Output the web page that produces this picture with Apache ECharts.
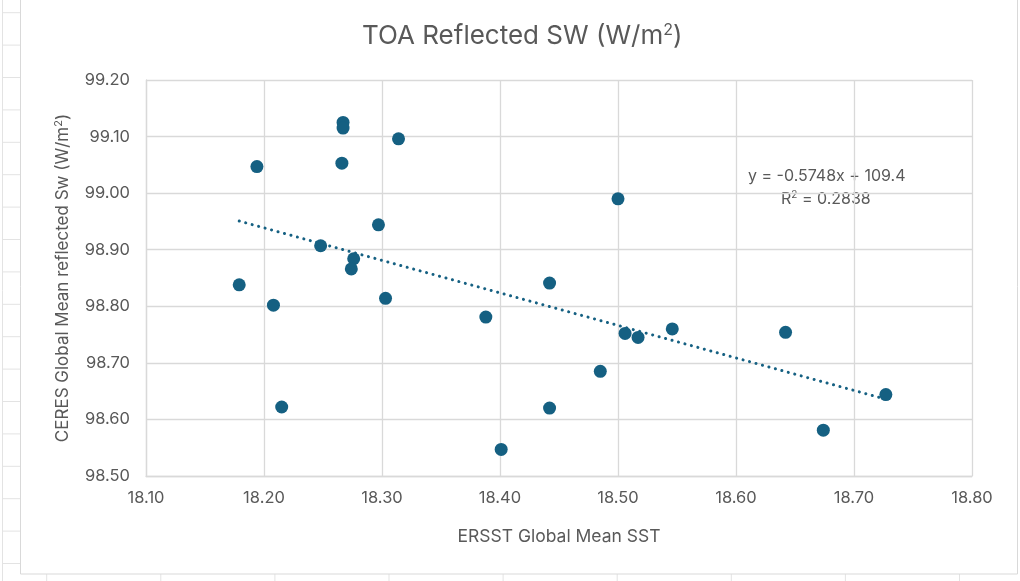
<!DOCTYPE html>
<html>
<head>
<meta charset="utf-8">
<script src="https://cdn.jsdelivr.net/npm/echarts@6/dist/echarts.min.js"></script>
<style>
html,body{margin:0;padding:0;background:#fff;}
#c{width:1020px;height:581px;}
</style>
</head>
<body>
<div id="c"></div>
<script>
// Data
const sstValues = [18.267, 18.267, 18.314, 18.194, 18.266, 18.297, 18.248, 18.276, 18.274, 18.179,
                   18.208, 18.303, 18.215, 18.500, 18.442, 18.388, 18.506, 18.517, 18.546, 18.485,
                   18.442, 18.401, 18.642, 18.727, 18.674];
const swValues  = [99.125, 99.115, 99.096, 99.047, 99.053, 98.944, 98.907, 98.884, 98.866, 98.838,
                   98.802, 98.814, 98.622, 98.990, 98.841, 98.781, 98.752, 98.745, 98.760, 98.685,
                   98.620, 98.547, 98.754, 98.644, 98.581];
const trendSlope = -0.5748;
const trendIntercept = 109.4;
const trendRange = [18.179, 18.727];
const xTicks = ['18.10','18.20','18.30','18.40','18.50','18.60','18.70','18.80'];
const yTicks = ['98.50','98.60','98.70','98.80','98.90','99.00','99.10','99.20'];

const points = sstValues.map((x, i) => [x, swValues[i]]);
const trendPoints = trendRange.map(x => [x, trendSlope * x + trendIntercept]);

const FONT = 'Inter, "Liberation Sans", sans-serif';
const TXT = '#595959';
const GRID = '#d9d9d9';
const MARK = '#156082';

// spreadsheet background decoration
const deco = [];
for (let y = 12.7; y < 575; y += 32.4) {
  deco.push({type:'line', shape:{x1:3, y1:y, x2:20, y2:y}, style:{stroke:'#e3e3e3', lineWidth:1}, silent:true});
}
deco.push({type:'line', shape:{x1:2.5, y1:0, x2:2.5, y2:581}, style:{stroke:'#e3e3e3', lineWidth:1}, silent:true});
for (let x = 46.7; x < 1020; x += 114.1) {
  deco.push({type:'line', shape:{x1:x, y1:574, x2:x, y2:581}, style:{stroke:'#e3e3e3', lineWidth:1}, silent:true});
}
deco.push({type:'rect', shape:{x:20.5, y:-2, width:997, height:576}, style:{fill:null, stroke:'#d9d9d9', lineWidth:1}, silent:true});
deco.push({type:'text', left:748, top:168, style:{text:'y = -0.5748x + 109.4', font:'16px ' + FONT, fill:TXT}, silent:true});
deco.push({type:'text', left:781, top:190, style:{rich:{a:{font:'16px ' + FONT, fill:TXT}, s:{font:'10px ' + FONT, fill:TXT, verticalAlign:'top', padding:[0,0,8,0]}}, text:'{a|R}{s|2}{a| = 0.2838}'}, silent:true});

const chart = echarts.init(document.getElementById('c'));
chart.setOption({
  backgroundColor: '#fff',
  animation: false,
  title: {
    text: '{t|TOA Reflected SW (W/m}{s|2}{t|)}',
    left: 357,
    top: 17,
    textStyle: {
      fontWeight: 'normal',
      rich: {
        t: {fontFamily: FONT, fontSize: 26, fontWeight: 'normal', color: TXT},
        s: {fontFamily: FONT, fontSize: 16, fontWeight: 'normal', color: TXT, verticalAlign: 'top', padding: [0,0,12,0]}
      }
    }
  },
  grid: {left: 146, right: 48, top: 80, bottom: 105},
  xAxis: {
    type: 'value', min: 18.1, max: 18.8, interval: 0.1,
    name: 'ERSST Global Mean SST', nameLocation: 'middle', nameGap: 52,
    nameTextStyle: {fontFamily: FONT, fontSize: 17.5, color: TXT},
    axisLine: {show: true, lineStyle: {color: GRID, width: 1.3}},
    axisTick: {show: false},
    splitLine: {show: true, lineStyle: {color: GRID, width: 1.3}},
    axisLabel: {fontFamily: FONT, fontSize: 16.5, color: TXT, margin: 14,
      formatter: (v) => xTicks[Math.round((v - 18.1) * 10)] || ''}
  },
  yAxis: {
    type: 'value', min: 98.5, max: 99.2, interval: 0.1,
    name: '{a|CERES Global Mean reflected Sw (W/m}{s|2}{a|)}', nameLocation: 'middle', nameGap: 74,
    nameTextStyle: {rich: {
      a: {fontFamily: FONT, fontSize: 17, color: TXT},
      s: {fontFamily: FONT, fontSize: 11, color: TXT, verticalAlign: 'top', padding: [0,0,8,0]}
    }},
    axisLine: {show: true, lineStyle: {color: GRID, width: 1.3}},
    axisTick: {show: false},
    splitLine: {show: true, lineStyle: {color: GRID, width: 1.3}},
    axisLabel: {fontFamily: FONT, fontSize: 16.5, color: TXT, margin: 16,
      formatter: (v) => yTicks[Math.round((v - 98.5) * 10)] || ''}
  },
  series: [
    {
      type: 'line', data: trendPoints, symbol: 'none', silent: true, z: 1,
      lineStyle: {color: MARK, width: 3, type: [0.1, 6.6], cap: 'round'}
    },
    {
      type: 'scatter', data: points, symbol: 'circle', symbolSize: 13, z: 2,
      itemStyle: {color: MARK, opacity: 1}
    }
  ],
  graphic: deco
});
</script>
</body>
</html>
